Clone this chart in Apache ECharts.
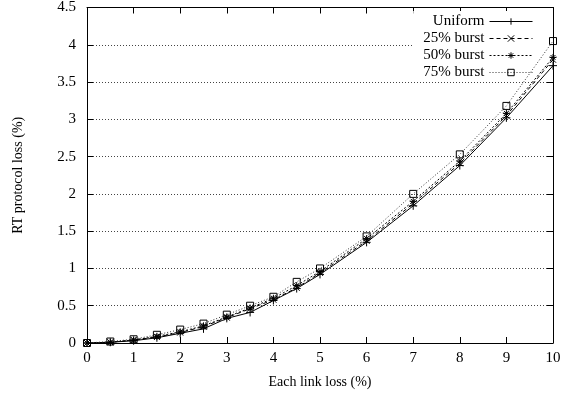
<!DOCTYPE html>
<html>
<head>
<meta charset="utf-8">
<script src="https://cdn.jsdelivr.net/npm/echarts@6/dist/echarts.min.js"></script>
<style>
  html, body { margin: 0; padding: 0; background: #fff; }
  #chart { width: 574px; height: 398px; }
</style>
</head>
<body>
<div id="chart"></div>
<script>
// Per-link loss (%) sampled along the x axis
const linkLoss = [0, 0.5, 1, 1.5, 2, 2.5, 3, 3.5, 4, 4.5, 5, 6, 7, 8, 9, 10];

// RT protocol loss (%) for each loss model
const uniform  = [0, 0.01, 0.03, 0.07, 0.13, 0.19, 0.33, 0.41, 0.57, 0.73, 0.92, 1.35, 1.84, 2.38, 3.02, 3.72];
const burst25  = [0, 0.01, 0.04, 0.08, 0.14, 0.22, 0.34, 0.46, 0.58, 0.74, 0.94, 1.37, 1.87, 2.41, 3.05, 3.80];
const burst50  = [0, 0.01, 0.04, 0.09, 0.15, 0.23, 0.35, 0.47, 0.60, 0.77, 0.96, 1.40, 1.90, 2.44, 3.08, 3.83];
const burst75  = [0, 0.02, 0.05, 0.11, 0.18, 0.26, 0.38, 0.50, 0.62, 0.82, 1.00, 1.43, 2.00, 2.53, 3.18, 4.05];

const seriesNames = ['Uniform', '25% burst', '50% burst', '75% burst'];

const FONT = 'Liberation Serif';

const SYM_PLUS = 'path://M0,5L10,5M5,0L5,10';
const SYM_CROSS = 'path://M0,0L10,10M10,0L0,10';
const SYM_STAR = 'path://M0,5L10,5M5,0L5,10M1.5,1.5L8.5,8.5M8.5,1.5L1.5,8.5';
const SYM_BOX = 'path://M0,0L10,0L10,10L0,10Z';

function pairs(ys) {
  return linkLoss.map((x, i) => [x, ys[i]]);
}

function makeSeries(name, ys, symbol, size, lineType, lineColor) {
  return {
    name: name,
    type: 'line',
    data: pairs(ys),
    symbol: symbol,
    symbolSize: size,
    showAllSymbol: true,
    itemStyle: { color: 'transparent', borderColor: '#000', borderWidth: 1 },
    lineStyle: { color: lineColor, width: 1, type: lineType },
    emphasis: { disabled: true },
    z: 3
  };
}

const chart = echarts.init(document.getElementById('chart'), null, { renderer: 'canvas' });

const tickStyle = { show: true, inside: true, length: 6, lineStyle: { color: '#000', width: 1 } };

chart.setOption({
  animation: false,
  backgroundColor: '#fff',
  grid: { left: 87, right: 21, top: 7, bottom: 55, containLabel: false },
  legend: {
    data: seriesNames,
    orient: 'vertical',
    align: 'right',
    right: 21,
    top: 11,
    padding: [3, 20, 2, 10],
    itemWidth: 43,
    itemHeight: 8,
    itemGap: 2,
    backgroundColor: '#fff',
    z: 1,
    selectedMode: false,
    lineStyle: { width: 1 },
    itemStyle: { borderWidth: 1 },
    textStyle: { fontFamily: FONT, fontSize: 15, color: '#000' }
  },
  xAxis: [
    {
      type: 'value', min: 0, max: 10, interval: 1, position: 'bottom',
      name: 'Each link loss (%)', nameLocation: 'middle', nameGap: 32,
      nameTextStyle: { fontFamily: FONT, fontSize: 14, color: '#000' },
      axisLine: { show: true, onZero: false, lineStyle: { color: '#000', width: 1 } },
      axisTick: tickStyle,
      axisLabel: { fontFamily: FONT, fontSize: 15, color: '#000', margin: 8 },
      splitLine: { show: false }
    },
    {
      type: 'value', min: 0, max: 10, interval: 1, position: 'top',
      axisLine: { show: true, onZero: false, lineStyle: { color: '#000', width: 1 } },
      axisTick: tickStyle,
      axisLabel: { show: false },
      splitLine: { show: false }
    }
  ],
  yAxis: [
    {
      type: 'value', min: 0, max: 4.5, interval: 0.5, position: 'left',
      name: 'RT protocol loss (%)', nameLocation: 'middle', nameGap: 62, nameRotate: 90,
      nameTextStyle: { fontFamily: FONT, fontSize: 14, color: '#000' },
      axisLine: { show: true, onZero: false, lineStyle: { color: '#000', width: 1 } },
      axisTick: tickStyle,
      axisLabel: { fontFamily: FONT, fontSize: 15, color: '#000', margin: 11 },
      splitLine: { show: true, lineStyle: { color: '#444', width: 1, type: [1, 2] } }
    },
    {
      type: 'value', min: 0, max: 4.5, interval: 0.5, position: 'right',
      axisLine: { show: true, onZero: false, lineStyle: { color: '#000', width: 1 } },
      axisTick: tickStyle,
      axisLabel: { show: false },
      splitLine: { show: false }
    }
  ],
  series: [
    makeSeries(seriesNames[0], uniform, SYM_PLUS, 8, 'solid', '#000'),
    makeSeries(seriesNames[1], burst25, SYM_CROSS, 6, [4, 3], '#000'),
    makeSeries(seriesNames[2], burst50, SYM_STAR, 7, [2, 2], '#000'),
    makeSeries(seriesNames[3], burst75, SYM_BOX, 7, [1, 2], '#333')
  ]
});
</script>
</body>
</html>
